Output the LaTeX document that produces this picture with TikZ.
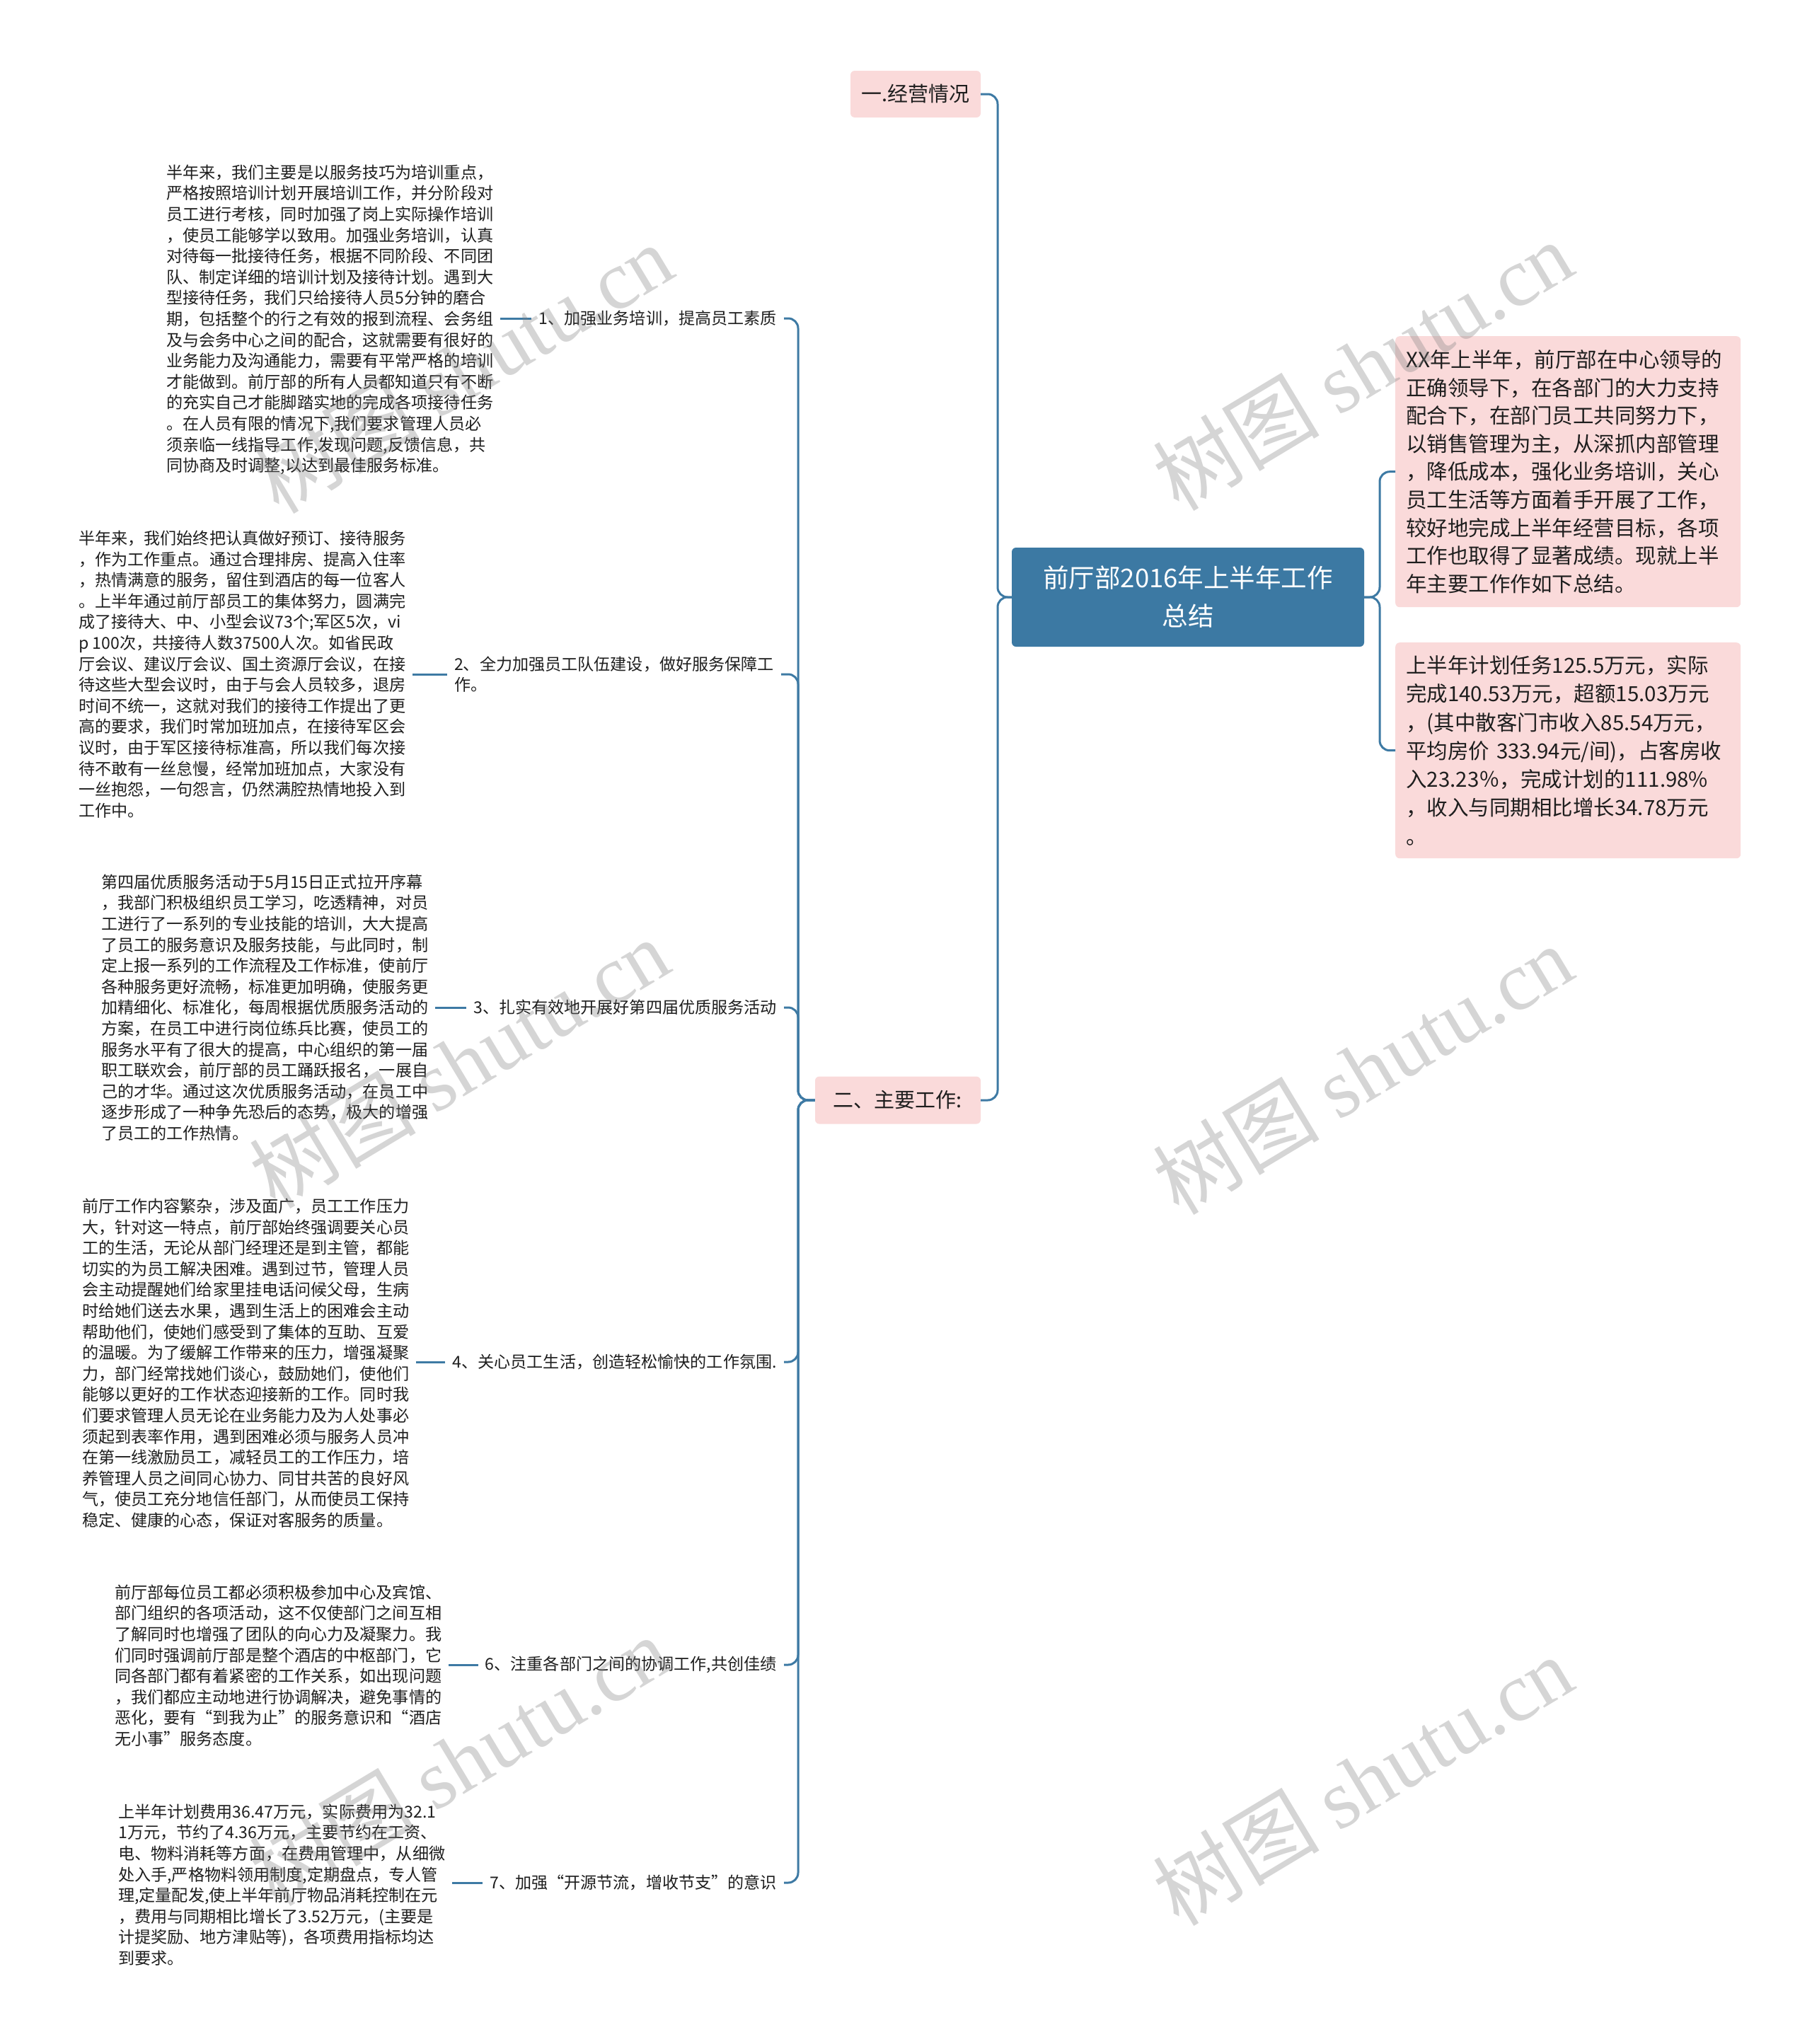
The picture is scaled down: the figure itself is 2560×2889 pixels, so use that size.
\documentclass[tikz,border=0pt]{standalone}
\usepackage{fontspec}
\setmainfont{Noto Sans CJK SC}
\newfontfamily\wmlatin{Liberation Serif}
\definecolor{linecol}{RGB}{62,122,164}
\definecolor{maincol}{RGB}{60,121,163}
\definecolor{pinkcol}{RGB}{250,218,218}
\definecolor{txtcol}{RGB}{30,30,30}
\begin{document}
\begin{tikzpicture}[x=1pt,y=-1pt,
  conn/.style={draw=linecol, line width=3pt, rounded corners=14pt},
  leafconn/.style={draw=linecol, line width=3pt},
  leaf/.style={anchor=west, inner xsep=10pt, inner ysep=0pt, align=left, text=txtcol, font=\fontsize{23.1}{29.6}\selectfont},
  item/.style={anchor=east, inner xsep=10pt, inner ysep=2pt, align=left, text=txtcol, font=\fontsize{23.1}{29.6}\selectfont},
  pinkbox/.style={fill=pinkcol, rounded corners=6pt, inner ysep=0pt, text=txtcol},
  wm/.style={rotate=31, text=black!50, text opacity=0.33, inner sep=0pt, font=\fontsize{118}{130}\selectfont}]
\fill[white] (0,0) rectangle (2560,2889);
\useasboundingbox (0,0) rectangle (2560,2889);
\coordinate (bL) at (1128,0);
\coordinate (bM) at (1410,0);
\coordinate (bR) at (1950,0);

% central topic
\node[fill=maincol, rounded corners=6pt, minimum width=498pt, minimum height=140pt, align=center, text=white, inner sep=0pt, font=\fontsize{36.5}{54}\selectfont] (main) at (1679,844) {前厅部2016年上半年工作\\总结};

% right boxes
\node[pinkbox, anchor=north west, inner xsep=15pt, text width=458pt, minimum height=383pt, align=left, font=\fontsize{29.5}{39.6}\selectfont] (b1) at (1972,475) {XX年上半年，前厅部在中心领导的\\正确领导下，在各部门的大力支持\\配合下，在部门员工共同努力下，\\以销售管理为主，从深抓内部管理\\，降低成本，强化业务培训，关心\\员工生活等方面着手开展了工作，\\较好地完成上半年经营目标，各项\\工作也取得了显著成绩。现就上半\\年主要工作作如下总结。};
\node[pinkbox, anchor=north west, inner xsep=15pt, text width=458pt, minimum height=305pt, align=left, font=\fontsize{29.5}{40.3}\selectfont] (b2) at (1972,908) {上半年计划任务125.5万元，实际\\完成140.53万元，超额15.03万元\\，(其中散客门市收入85.54万元，\\平均房价 333.94元/间)，占客房收\\入23.23％，完成计划的111.98\%\\，收入与同期相比增长34.78万元\\。};

% first-level left nodes
\node[pinkbox, minimum width=184pt, minimum height=66pt, inner xsep=0pt, font=\fontsize{29}{34}\selectfont] (yi) at (1294,133) {一.经营情况};
\node[pinkbox, minimum width=234pt, minimum height=67pt, inner xsep=0pt, font=\fontsize{29}{34}\selectfont] (er) at (1269,1555) {二、主要工作:};

% items
\node[item] (i1) at (1108,450) {1、加强业务培训，提高员工素质};
\node[item] (i2) at (1104,953) {2、全力加强员工队伍建设，做好服务保障工\\作。};
\node[item] (i3) at (1108,1424) {3、扎实有效地开展好第四届优质服务活动};
\node[item] (i4) at (1108,1925) {4、关心员工生活，创造轻松愉快的工作氛围.};
\node[item] (i6) at (1108,2353) {6、注重各部门之间的协调工作,共创佳绩};
\node[item] (i7) at (1108,2661) {7、加强“开源节流，增收节支”的意识};

% leaves
\node[leaf] (l1) at (225,452) {半年来，我们主要是以服务技巧为培训重点，\\严格按照培训计划开展培训工作，并分阶段对\\员工进行考核，同时加强了岗上实际操作培训\\，使员工能够学以致用。加强业务培训，认真\\对待每一批接待任务，根据不同阶段、不同团\\队、制定详细的培训计划及接待计划。遇到大\\型接待任务，我们只给接待人员5分钟的磨合\\期，包括整个的行之有效的报到流程、会务组\\及与会务中心之间的配合，这就需要有很好的\\业务能力及沟通能力，需要有平常严格的培训\\才能做到。前厅部的所有人员都知道只有不断\\的充实自己才能脚踏实地的完成各项接待任务\\。在人员有限的情况下,我们要求管理人员必\\须亲临一线指导工作,发现问题,反馈信息，共\\同协商及时调整,以达到最佳服务标准。};
\node[leaf] (l2) at (101,953) {半年来，我们始终把认真做好预订、接待服务\\，作为工作重点。通过合理排房、提高入住率\\，热情满意的服务，留住到酒店的每一位客人\\。上半年通过前厅部员工的集体努力，圆满完\\成了接待大、中、小型会议73个;军区5次，vi\\p 100次，共接待人数37500人次。如省民政\\厅会议、建议厅会议、国土资源厅会议，在接\\待这些大型会议时，由于与会人员较多，退房\\时间不统一，这就对我们的接待工作提出了更\\高的要求，我们时常加班加点，在接待军区会\\议时，由于军区接待标准高，所以我们每次接\\待不敢有一丝怠慢，经常加班加点，大家没有\\一丝抱怨，一句怨言，仍然满腔热情地投入到\\工作中。};
\node[leaf] (l3) at (133,1424) {第四届优质服务活动于5月15日正式拉开序幕\\，我部门积极组织员工学习，吃透精神，对员\\工进行了一系列的专业技能的培训，大大提高\\了员工的服务意识及服务技能，与此同时，制\\定上报一系列的工作流程及工作标准，使前厅\\各种服务更好流畅，标准更加明确，使服务更\\加精细化、标准化，每周根据优质服务活动的\\方案，在员工中进行岗位练兵比赛，使员工的\\服务水平有了很大的提高，中心组织的第一届\\职工联欢会，前厅部的员工踊跃报名，一展自\\己的才华。通过这次优质服务活动，在员工中\\逐步形成了一种争先恐后的态势，极大的增强\\了员工的工作热情。};
\node[leaf] (l4) at (106,1927) {前厅工作内容繁杂，涉及面广，员工工作压力\\大，针对这一特点，前厅部始终强调要关心员\\工的生活，无论从部门经理还是到主管，都能\\切实的为员工解决困难。遇到过节，管理人员\\会主动提醒她们给家里挂电话问候父母，生病\\时给她们送去水果，遇到生活上的困难会主动\\帮助他们，使她们感受到了集体的互助、互爱\\的温暖。为了缓解工作带来的压力，增强凝聚\\力，部门经常找她们谈心，鼓励她们，使他们\\能够以更好的工作状态迎接新的工作。同时我\\们要求管理人员无论在业务能力及为人处事必\\须起到表率作用，遇到困难必须与服务人员冲\\在第一线激励员工，减轻员工的工作压力，培\\养管理人员之间同心协力、同甘共苦的良好风\\气，使员工充分地信任部门，从而使员工保持\\稳定、健康的心态，保证对客服务的质量。};
\node[leaf] (l6) at (152,2354) {前厅部每位员工都必须积极参加中心及宾馆、\\部门组织的各项活动，这不仅使部门之间互相\\了解同时也增强了团队的向心力及凝聚力。我\\们同时强调前厅部是整个酒店的中枢部门，它\\同各部门都有着紧密的工作关系，如出现问题\\，我们都应主动地进行协调解决，避免事情的\\恶化，要有“到我为止”的服务意识和“酒店\\无小事”服务态度。};
\node[leaf] (l7) at (157,2664) {上半年计划费用36.47万元，实际费用为32.1\\1万元，节约了4.36万元，主要节约在工资、\\电、物料消耗等方面，在费用管理中，从细微\\处入手,严格物料领用制度,定期盘点，专人管\\理,定量配发,使上半年前厅物品消耗控制在元\\，费用与同期相比增长了3.52万元，(主要是\\计提奖励、地方津贴等)，各项费用指标均达\\到要求。};

% connectors
\draw[conn] (main.east) -- (main.east -| bR) |- (b1.west);
\draw[conn] (main.east) -- (main.east -| bR) |- (b2.west);
\draw[conn] (main.west) -- (main.west -| bM) |- (yi.east);
\draw[conn] (main.west) -- (main.west -| bM) |- (er.east);
\foreach \n in {i1,i2,i3,i4,i6,i7}
  \draw[conn] (er.west) -- (er.west -| bL) |- (\n.east);
\draw[leafconn] (i1.west) -- (i1.west -| l1.east);
\draw[leafconn] (i2.west) -- (i2.west -| l2.east);
\draw[leafconn] (i3.west) -- (i3.west -| l3.east);
\draw[leafconn] (i4.west) -- (i4.west -| l4.east);
\draw[leafconn] (i6.west) -- (i6.west -| l6.east);
\draw[leafconn] (i7.west) -- (i7.west -| l7.east);

% watermarks
\node[wm] (wm1) at (654,520) {树图 {\wmlatin shutu.cn}};
\node[wm] (wm2) at (1926,516) {树图 {\wmlatin shutu.cn}};
\node[wm] (wm3) at (649,1502) {树图 {\wmlatin shutu.cn}};
\node[wm] (wm4) at (1926,1511) {树图 {\wmlatin shutu.cn}};
\node[wm] (wm5) at (649,2488) {树图 {\wmlatin shutu.cn}};
\node[wm] (wm6) at (1926,2516) {树图 {\wmlatin shutu.cn}};
\end{tikzpicture}
\end{document}
